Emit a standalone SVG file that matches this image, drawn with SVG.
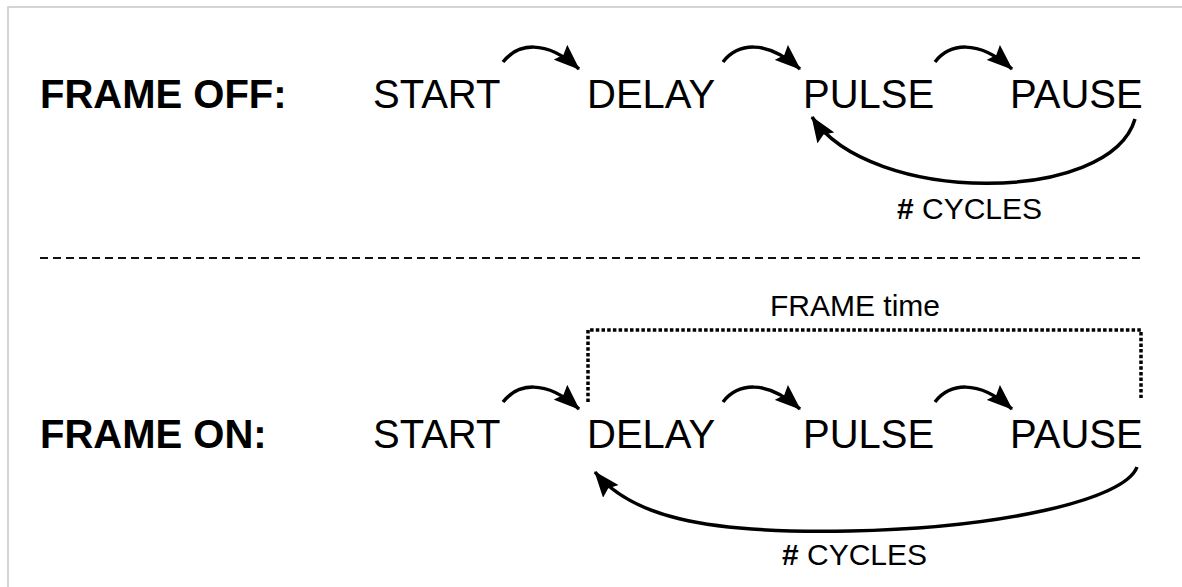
<svg xmlns="http://www.w3.org/2000/svg" width="1182" height="587" viewBox="0 0 1182 587">
<style>
  .lbl { font-family: "Liberation Sans", Arial, sans-serif; font-size: 40px; fill: #000; }
  .hdr { font-family: "Liberation Sans", Arial, sans-serif; font-size: 40px; font-weight: bold; fill: #000; }
  .sm { font-family: "Liberation Sans", Arial, sans-serif; font-size: 30px; fill: #000; }
  .arc { fill: none; stroke: #000; stroke-width: 3.5; marker-end: url(#ah); }
  .dot { fill: none; stroke: #000; stroke-width: 3.5; stroke-dasharray: 3.5 2.2; }
</style>
<defs>
  <marker id="ah" markerUnits="userSpaceOnUse" viewBox="0 0 26 20" refX="25" refY="10" markerWidth="26" markerHeight="20" orient="auto">
    <path d="M0,0 L26,10 L0,20 L4,10 Z" fill="#000"/>
  </marker>
</defs>
<rect width="1182" height="587" fill="#fff"/>
<path d="M8,587 L8,7 L1182,7" fill="none" stroke="#c8c8c8" stroke-width="1.5"/>
<line x1="40" y1="258" x2="1142" y2="258" stroke="#111" stroke-width="2.2" stroke-dasharray="8 5"/>

<text class="hdr" x="40" y="108">FRAME OFF:</text>
<text class="hdr" x="40" y="448">FRAME ON:</text>

<g id="off-start"><text class="lbl" x="373" y="108">START</text></g>
<g id="off-delay"><text class="lbl" x="587" y="108">DELAY</text></g>
<g id="off-pulse"><text class="lbl" x="803" y="108">PULSE</text></g>
<g id="off-pause"><text class="lbl" x="1010" y="108">PAUSE</text></g>

<g id="on-start"><text class="lbl" x="373" y="448">START</text></g>
<g id="on-delay"><text class="lbl" x="587" y="448">DELAY</text></g>
<g id="on-pulse"><text class="lbl" x="803" y="448">PULSE</text></g>
<g id="on-pause"><text class="lbl" x="1010" y="448">PAUSE</text></g>

<g id="frame-time">
  <path class="dot" d="M588,402 L588,330 L1141,330 L1141,398"/>
  <text class="sm" x="770" y="316">FRAME time</text>
</g>

<g id="connectors">
  <path class="arc" d="M503,62 C517,44 545,38 579,69"/>
  <path class="arc" d="M723,62 C737,44 765,38 800,69"/>
  <path class="arc" d="M935,62 C949,44 977,38 1012,69"/>
  <path class="arc" d="M1135,119 C1110,205 870,205 812,117"/>

  <path class="arc" d="M503,402 C517,384 545,378 579,409"/>
  <path class="arc" d="M723,402 C737,384 765,378 800,409"/>
  <path class="arc" d="M935,402 C949,384 977,378 1012,409"/>
  <path class="arc" d="M1137,467 C1125,500 1000,528 850,531 C700,534 630,515 595,472"/>

  <text class="sm" x="897" y="219"><tspan font-weight="bold">#</tspan> CYCLES</text>
  <text class="sm" x="782" y="565"><tspan font-weight="bold">#</tspan> CYCLES</text>
</g>
</svg>
